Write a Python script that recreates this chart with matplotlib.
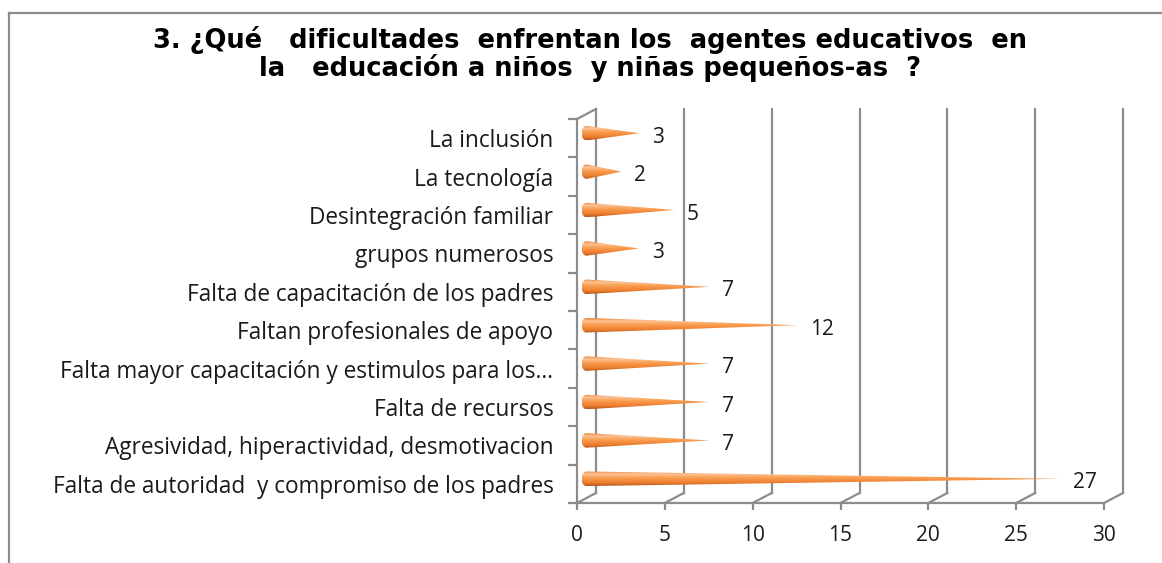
import matplotlib.pyplot as plt
import numpy as np
from matplotlib.colors import LinearSegmentedColormap
from matplotlib.lines import Line2D
from matplotlib.patches import Polygon

categories = ["La inclusión", "La tecnología", "Desintegración familiar",
              "grupos numerosos", "Falta de capacitación de los padres",
              "Faltan profesionales de apoyo",
              "Falta mayor capacitación y estimulos para los…",
              "Falta de recursos", "Agresividad, hiperactividad, desmotivacion",
              "Falta de autoridad  y compromiso de los padres"]
values = [3, 2, 5, 3, 7, 12, 7, 7, 7, 27]
xticks = [0, 5, 10, 15, 20, 25, 30]
title = ("3. ¿Qué   dificultades  enfrentan los  agentes educativos  en\n"
         "la   educación a niños  y niñas pequeños-as  ?")

W, H = 1162, 563
grey = '#8c8c8c'
txt = '#1a1a1a'
label_font = 'Open Sans'

fig = plt.figure(figsize=(W / 100, H / 100), dpi=100)
ax = fig.add_axes([577 / W, (H - 503) / H, 527 / W, 384 / H])
ax.set_xlim(0, 30)
ax.set_ylim(len(categories) - 0.5, -0.5)

# depth of the fake 3d box, in pixels -> data units
px_x = ax.bbox.width / 30
px_y = ax.bbox.height / len(categories)
dx, dy = 19 / px_x, 10 / px_y
mdx, mdy = dx / 2, dy / 2
y0, y1 = len(categories) - 0.5, -0.5

# back wall gridlines and floor diagonals
for v in xticks:
    ax.plot([v + dx, v + dx], [y0 - dy, y1 - dy], color=grey, lw=1.6, clip_on=False, zorder=1)
    ax.plot([v, v + dx], [y0, y0 - dy], color=grey, lw=1.6, clip_on=False, zorder=1)
ax.plot([0, dx], [y1, y1 - dy], color=grey, lw=1.6, clip_on=False, zorder=1)

# cones
cmap = LinearSegmentedColormap.from_list('cone', [
    (0.0, '#e8843a'), (0.2, '#fcc496'), (0.45, '#f99d50'),
    (0.8, '#ec7c2e'), (1.0, '#b4581c')])
grad = cmap(np.linspace(0, 1, 64))[:, None, :3]
h = 7.3 / px_y
capw = 5 / px_x
t = np.linspace(np.pi / 2, 3 * np.pi / 2, 20)
for i, v in enumerate(values):
    cy = i - mdy
    bx = mdx
    pts = [(bx + capw * np.cos(a), cy - h * np.sin(a)) for a in t]
    pts.append((bx + v, cy))
    poly = Polygon(pts, closed=True, facecolor='none', edgecolor='none')
    ax.add_patch(poly)
    im = ax.imshow(grad, extent=(bx - capw, bx + v, cy + h, cy - h),
                   aspect='auto', interpolation='bilinear', zorder=3)
    im.set_clip_path(poly)
    ax.annotate(str(v), xy=(v, i), xytext=(22, 1), textcoords='offset pixels',
                ha='left', va='center', fontsize=15, family=label_font, color=txt,
                annotation_clip=False)

ax.set_xlim(0, 30)
ax.set_ylim(len(categories) - 0.5, -0.5)

for s in ['top', 'right']:
    ax.spines[s].set_visible(False)
for s in ['left', 'bottom']:
    ax.spines[s].set_color(grey)
    ax.spines[s].set_linewidth(1.6)

ax.set_xticks(xticks)
ax.set_xticklabels([str(x) for x in xticks], family=label_font, fontsize=15, color=txt)
ax.tick_params(axis='x', length=5, width=1.6, color=grey, pad=11)
ax.set_yticks(range(len(categories)))
ax.set_yticklabels(categories, family=label_font, fontsize=16.3, color=txt)
ax.set_yticks(np.arange(-0.5, len(categories), 1), minor=True)
ax.tick_params(axis='y', which='major', length=0, pad=17)
ax.tick_params(axis='y', which='minor', length=6.5, width=1.6, color=grey)

# chart frame
fig.add_artist(Line2D([9 / W, 9 / W], [0, 1 - 13 / H], color=grey, lw=1.6))
fig.add_artist(Line2D([9 / W, 1], [1 - 13 / H, 1 - 13 / H], color=grey, lw=1.6))

fig.text(590 / W, 1 - 54 / H, title, ha='center', va='center', fontsize=18.5,
         fontweight='bold', family='DejaVu Sans', color='black', linespacing=1.0)

fig.savefig('out.png', dpi=100)
